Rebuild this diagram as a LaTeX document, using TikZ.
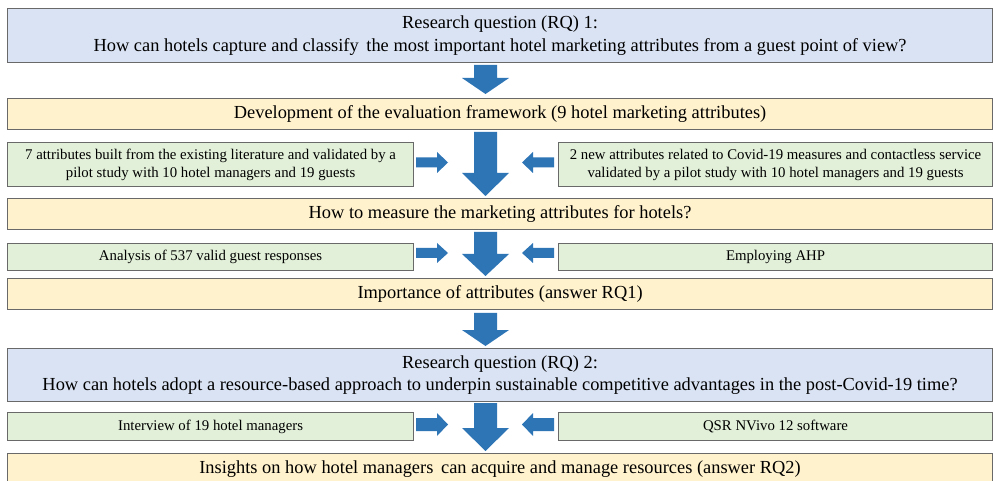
\documentclass[tikz,border=0pt]{standalone}
\usepackage{fontspec}
\setmainfont{Liberation Serif}
\definecolor{bxblue}{HTML}{DAE3F3}
\definecolor{bxyellow}{HTML}{FFF2CC}
\definecolor{bxgreen}{HTML}{E2F0D9}
\definecolor{bxline}{RGB}{105,105,105}
\definecolor{arrowblue}{HTML}{2E75B6}
\newcommand\flowdown[3]{\fill[arrowblue] (474,#1) -- (497,#1) -- (497,#2) -- (509,#2) -- (485.5,#3) -- (462,#2) -- (474,#2) -- cycle;}
\newcommand\flowright[3]{\fill[arrowblue] (416,{#1-#2}) -- (437,{#1-#2}) -- (437,{#1-#3}) -- (448,#1) -- (437,{#1+#3}) -- (437,{#1+#2}) -- (416,{#1+#2}) -- cycle;}
\newcommand\flowleft[3]{\fill[arrowblue] (554,{#1-#2}) -- (533,{#1-#2}) -- (533,{#1-#3}) -- (522,#1) -- (533,{#1+#3}) -- (533,{#1+#2}) -- (554,{#1+#2}) -- cycle;}
\begin{document}
\begin{tikzpicture}[x=1pt,y=-1pt,
  box/.style={draw=bxline, line width=1.1pt, inner sep=0pt, anchor=north west, align=center},
  widebox/.style={box, minimum width=985pt, font=\fontsize{18.4}{22.5}\selectfont},
  sidebox/.style={box, fill=bxgreen, font=\fontsize{14.8}{18}\selectfont},
  leftbox/.style={sidebox, minimum width=406pt},
  rightbox/.style={sidebox, minimum width=434pt}]
\useasboundingbox (0,0) rectangle (994,481);
\clip (0,0) rectangle (994,481);
\fill[white] (0,0) rectangle (994,481);

\node[widebox, fill=bxblue, minimum height=54pt] (rq1) at (7,8)
  {Research question (RQ) 1:\\How can hotels capture and classify\, the most important hotel marketing attributes from a guest point of view?};
\node[widebox, fill=bxyellow, minimum height=31pt] (dev) at (7,98)
  {Development of the evaluation framework (9 hotel marketing attributes)};
\node[leftbox, minimum height=44pt] (lit) at (7,142)
  {7 attributes built from the existing literature and validated by a\\pilot study with 10 hotel managers and 19 guests};
\node[rightbox, minimum height=44pt] (covid) at (558,142)
  {2 new attributes related to Covid-19 measures and contactless service\\validated by a pilot study with 10 hotel managers and 19 guests};
\node[widebox, fill=bxyellow, minimum height=31pt] (measure) at (7,198)
  {How to measure the marketing attributes for hotels?};
\node[leftbox, minimum height=27pt] (resp) at (7,243)
  {Analysis of 537 valid guest responses};
\node[rightbox, minimum height=27pt] (ahp) at (558,243)
  {Employing AHP};
\node[widebox, fill=bxyellow, minimum height=31pt] (imp) at (7,278)
  {Importance of attributes (answer RQ1)};
\node[widebox, fill=bxblue, minimum height=53pt] (rq2) at (7,348)
  {Research question (RQ) 2:\\How can hotels adopt a resource-based approach to underpin sustainable competitive advantages in the post-Covid-19 time?};
\node[leftbox, minimum height=28pt] (interview) at (7,412)
  {Interview of 19 hotel managers};
\node[rightbox, minimum height=28pt] (nvivo) at (558,412)
  {QSR NVivo 12 software};
\node[widebox, fill=bxyellow, minimum height=31pt] (insight) at (7,453)
  {Insights on how hotel managers\, can acquire and manage resources (answer RQ2)};

\flowdown{65}{78}{94}
\flowdown{132}{173}{196}
\flowdown{232}{254}{276}
\flowdown{313}{330}{346}
\flowdown{403}{428}{451}

\flowright{162.5}{5}{10.5}
\flowleft{162.5}{5}{10.5}
\flowright{253}{5}{10}
\flowleft{253}{5}{10}
\flowright{424.5}{6.5}{11.5}
\flowleft{424.5}{6.5}{11.5}
\end{tikzpicture}
\end{document}
